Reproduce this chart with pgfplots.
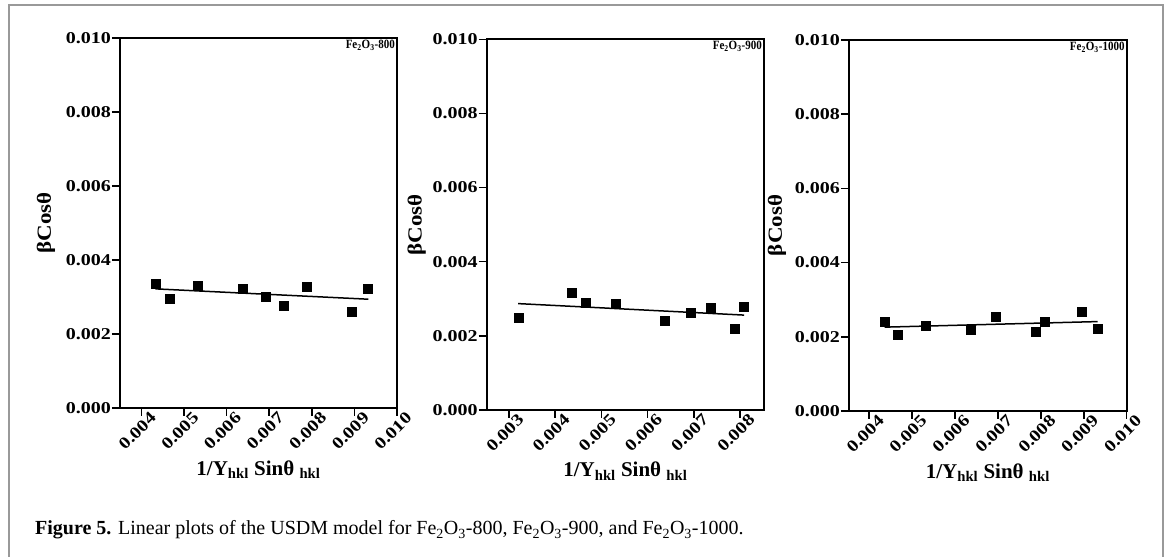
\documentclass[border=0pt]{standalone}
\usepackage{fontspec}
\setmainfont{Liberation Serif}
\usepackage{graphicx}
\usepackage{pgfplots}
\pgfplotsset{compat=1.18}

\pgfplotstableread{
x y
0.00433 0.00336
0.00467 0.00295
0.00532 0.00331
0.00638 0.00322
0.00691 0.00301
0.00734 0.00276
0.00788 0.00328
0.00894 0.00260
0.00932 0.00322
}\dataA
\pgfplotstableread{
x y
0.00321 0.00249
0.00436 0.00316
0.00466 0.00289
0.00532 0.00288
0.00637 0.00241
0.00694 0.00262
0.00736 0.00275
0.00789 0.00219
0.00809 0.00278
}\dataB
\pgfplotstableread{
x y
0.00436 0.00241
0.00466 0.00206
0.00531 0.00230
0.00636 0.00219
0.00694 0.00254
0.00788 0.00213
0.00808 0.00241
0.00894 0.00268
0.00932 0.00222
}\dataC

\newcommand{\ticklab}{\resizebox{45pt}{11pt}{\bfseries\pgfmathprintnumber[fixed,fixed zerofill,precision=3,assume math mode=true]{\tick}}}
\newcommand{\panellab}[1]{\scalebox{1}[1.15]{\fontsize{11}{12}\selectfont\bfseries Fe\textsubscript{2}O\textsubscript{3}-#1}}

\pgfplotsset{
  panel/.style={
    scale only axis,
    anchor=south west,
    ymin=0, ymax=0.010,
    ytick={0,0.002,0.004,0.006,0.008,0.010},
    scaled x ticks=false, scaled y ticks=false,
    axis line style={line width=1.8pt, black},
    tick style={line width=1.5pt, black},
    tick align=outside, tick pos=left,
    major tick length=8pt,
    yticklabel={\ticklab},
    xticklabel={\ticklab},
    yticklabel style={anchor=east, inner sep=1pt},
    xticklabel style={xshift=-4pt, yshift=-15pt, rotate=45, anchor=center},
    xlabel={\fontsize{21}{21}\selectfont\bfseries 1/Y\textsubscript{hkl} Sinθ \textsubscript{hkl}},
    xlabel style={at={(rel axis cs:0.5,0)}, anchor=base, yshift=-67pt, inner sep=0pt},
    ylabel={\scalebox{1.15}[1]{\fontsize{20}{20}\selectfont\bfseries βCosθ}},
    ylabel style={at={(rel axis cs:0,0.5)}, anchor=center, inner sep=0pt},
    clip=false,
  },
  pts/.style={only marks, mark=square*, mark size=4.5pt, black},
  fit/.style={black, line width=1.5pt, no marks},
}

\begin{document}
\begin{tikzpicture}
\useasboundingbox (0pt,0pt) rectangle (1168pt,557pt);
\draw[black!40, line width=1.5pt] (9pt,0pt) -- (9pt,552pt) -- (1163pt,552pt) -- (1163pt,0pt);

\begin{axis}[panel, at={(120pt,149pt)}, width=277pt, height=370pt,
  xmin=0.0035, xmax=0.010,
  xtick={0.004,0.005,0.006,0.007,0.008,0.009,0.010},
  ylabel style={yshift=74pt}]
\addplot[pts] table[x=x,y=y] {\dataA};
\addplot[fit] coordinates {(0.00433,0.00322) (0.00933,0.00294)};
\node[anchor=north east, inner sep=2pt] at (rel axis cs:1,1) {\panellab{800}};
\end{axis}

\begin{axis}[panel, at={(486.7pt,147pt)}, width=277.3pt, height=370.7pt,
  xmin=0.00252, xmax=0.00852,
  xtick={0.003,0.004,0.005,0.006,0.007,0.008},
  ylabel style={yshift=70pt}]
\addplot[pts] table[x=x,y=y] {\dataB};
\addplot[fit] coordinates {(0.00320,0.00287) (0.00809,0.00256)};
\node[anchor=north east, inner sep=2pt] at (rel axis cs:1,1) {\panellab{900}};
\end{axis}

\begin{axis}[panel, at={(849pt,146pt)}, width=277.7pt, height=371pt,
  xmin=0.00353, xmax=0.010,
  xtick={0.004,0.005,0.006,0.007,0.008,0.009,0.010},
  ylabel style={yshift=72pt}]
\addplot[pts] table[x=x,y=y] {\dataC};
\addplot[fit] coordinates {(0.00436,0.00226) (0.00932,0.00241)};
\node[anchor=north east, inner sep=2pt] at (rel axis cs:1,1) {\panellab{1000}};
\end{axis}

\node[anchor=base west, inner sep=0pt] at (35pt,22pt) {\fontsize{20}{22}\selectfont\textbf{Figure 5.} Linear plots of the USDM model for Fe\textsubscript{2}O\textsubscript{3}-800, Fe\textsubscript{2}O\textsubscript{3}-900, and Fe\textsubscript{2}O\textsubscript{3}-1000.};
\end{tikzpicture}
\end{document}
